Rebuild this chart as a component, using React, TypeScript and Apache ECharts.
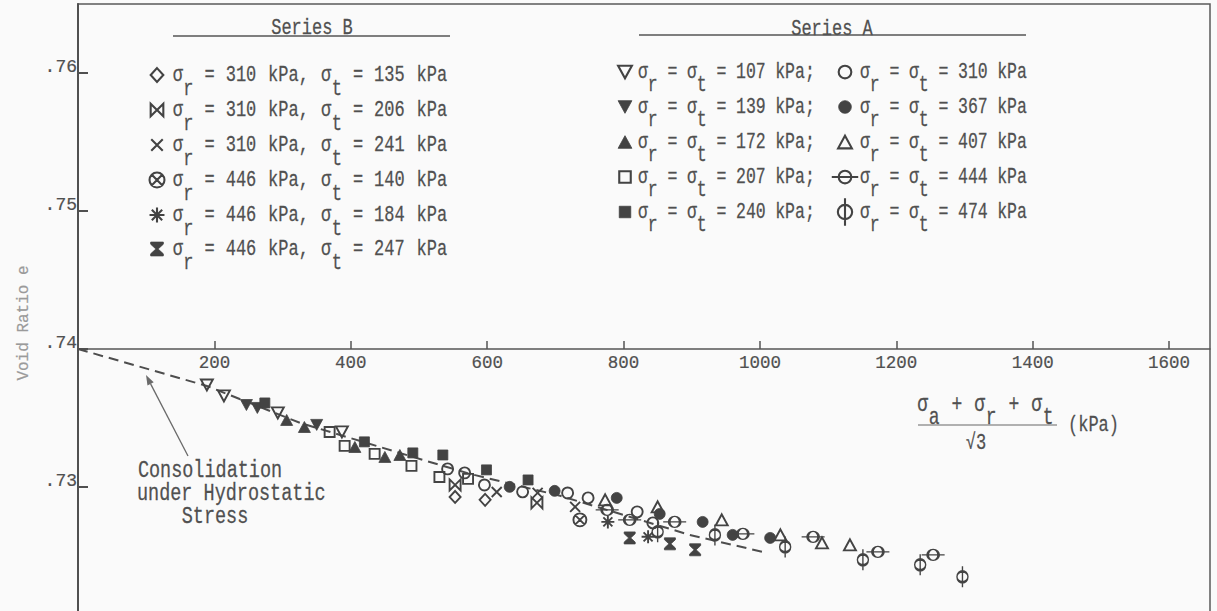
import React, { useEffect, useRef } from 'react';
import * as echarts from 'echarts';

// ---------- axes ----------
const X_MIN = 0;
const X_MAX = 1660;
const X_INTERVAL = 200;
const X_TICK_LABELS = [200, 400, 600, 800, 1000, 1200, 1400, 1600];
const Y_MIN = 0.72;
const Y_MAX = 0.765;
const Y_INTERVAL = 0.01;
const Y_TICK_LABELS = ['.73', '.74', '.75', '.76'];

// ---------- Series A (sigma_r = sigma_t) : [ (sa+sr+st)/sqrt3 kPa, void ratio e ] ----------
const a107 = [[189, 0.73739], [214, 0.7366], [293, 0.73537], [387, 0.73399]];
const a139 = [[247, 0.73594], [263, 0.73573], [350, 0.7345]];
const a172 = [[306, 0.73486], [332, 0.73435], [406, 0.7329], [450, 0.73218], [472, 0.73232]];
const a207 = [[369, 0.73399], [391, 0.73298], [435, 0.7324], [489, 0.73153], [530, 0.73073], [572, 0.73059]];
const a240 = [[274, 0.73609], [420, 0.73327], [491, 0.73247], [535, 0.73232], [599, 0.73124], [660, 0.73051]];
const a310 = [[542, 0.73131], [567, 0.73102], [596, 0.73015], [652, 0.72965], [718, 0.72957], [748, 0.72921], [820, 0.7282], [843, 0.7274]];
const a367 = [[633, 0.73001], [699, 0.72972], [790, 0.72921], [853, 0.72805], [916, 0.72747], [960, 0.72653], [1015, 0.72631]];
const a407 = [[773, 0.72907], [850, 0.72856], [944, 0.72762], [1030, 0.72653], [1091, 0.72595], [1132, 0.72581]];
const a444 = [[776, 0.72834], [809, 0.72762], [875, 0.72747], [975, 0.7266], [1078, 0.72639], [1173, 0.7253], [1254, 0.72508]];
const a474 = [[850, 0.72675], [934, 0.72653], [1037, 0.72566], [1151, 0.72472], [1235, 0.72436], [1297, 0.72349]];

// ---------- Series B ----------
const b310_135 = [[553, 0.72928], [597, 0.72907]];
const b310_206 = [[553, 0.73015], [673, 0.72885]];
const b310_241 = [[614, 0.72964], [674, 0.72957], [729, 0.72856]];
const b446_140 = [[736, 0.72762]];
const b446_184 = [[777, 0.72747], [836, 0.72639]];
const b446_247 = [[809, 0.72631], [868, 0.72588], [905, 0.72545]];

// ---------- consolidation under hydrostatic stress (dashed) ----------
const hydrostatic = [[0, 0.74], [189, 0.73732], [326, 0.73464], [491, 0.73218], [575, 0.73095], [707, 0.72936], [824, 0.72762], [897, 0.72653], [1010, 0.72523]];

// ---------- legend labels ----------
const A_LEFT = [107, 139, 172, 207, 240];
const A_RIGHT = [310, 367, 407, 444, 474];
const B_RADIAL = [310, 310, 310, 446, 446, 446];
const B_TANG = [135, 206, 241, 140, 184, 247];

const MARK = '#434343';
const TEXT = '#505050';
const FONT = '"Liberation Mono", "DejaVu Sans Mono", monospace';
const TALL = 1.3;
const EMB = 0.2;

const SYMBOLS: Record<string, { d: string; w: number; h: number }> = {
  triDown: { d: 'M0,0 L12,0 L6,11 Z', w: 12, h: 11 },
  triUp: { d: 'M6,0 L12,11 L0,11 Z', w: 12, h: 11 },
  square: { d: 'M0,0 L10,0 L10,10 L0,10 Z', w: 10, h: 10 },
  circle: { d: 'M0,5.5 A5.5,5.5 0 1,1 11,5.5 A5.5,5.5 0 1,1 0,5.5 Z', w: 11, h: 11 },
  diamond: { d: 'M5.5,0 L11,6 L5.5,12 L0,6 Z', w: 11, h: 12 },
  bowtie: { d: 'M0,0 L5.5,5.5 L0,11 Z M11,0 L5.5,5.5 L11,11 Z', w: 11, h: 11 },
  cross: { d: 'M0,0 L10,10 M10,0 L0,10', w: 10, h: 10 },
  otimes: { d: 'M0,6.5 A6.5,6.5 0 1,1 13,6.5 A6.5,6.5 0 1,1 0,6.5 Z M2,2 L11,11 M11,2 L2,11', w: 13, h: 13 },
  asterisk: { d: 'M6.5,0 L6.5,13 M0,6.5 L13,6.5 M2,2 L11,11 M11,2 L2,11', w: 13, h: 13 },
  hourglass: { d: 'M0,0 L11,0 L11,1.8 L6.5,6 L11,10.2 L11,12 L0,12 L0,10.2 L4.5,6 L0,1.8 Z', w: 11, h: 12 },
  circleBar: { d: 'M0,5.5 L23,5.5 M6,5.5 A5.5,5.5 0 1,1 17,5.5 A5.5,5.5 0 1,1 6,5.5 Z', w: 23, h: 11 },
  phi: { d: 'M5.5,0 L5.5,21 M0,10.5 A5.5,5.5 0 1,1 11,10.5 A5.5,5.5 0 1,1 0,10.5 Z', w: 11, h: 21 },
};

const SERIES_A = [
  { p: 107, data: a107, sym: 'triDown', fill: false },
  { p: 139, data: a139, sym: 'triDown', fill: true },
  { p: 172, data: a172, sym: 'triUp', fill: true },
  { p: 207, data: a207, sym: 'square', fill: false },
  { p: 240, data: a240, sym: 'square', fill: true },
  { p: 310, data: a310, sym: 'circle', fill: false },
  { p: 367, data: a367, sym: 'circle', fill: true },
  { p: 407, data: a407, sym: 'triUp', fill: false },
  { p: 444, data: a444, sym: 'circleBar', fill: false },
  { p: 474, data: a474, sym: 'phi', fill: false },
];
const SERIES_B = [
  { data: b310_135, sym: 'diamond', fill: false },
  { data: b310_206, sym: 'bowtie', fill: false },
  { data: b310_241, sym: 'cross', fill: false },
  { data: b446_140, sym: 'otimes', fill: false },
  { data: b446_184, sym: 'asterisk', fill: false },
  { data: b446_247, sym: 'hourglass', fill: true },
];

function txt(text: string, x: number, y: number, size: number, align = 'left', fill = TEXT, extra: any = {}) {
  return {
    type: 'text', x, y, silent: true, scaleY: TALL, ...extra,
    style: {
      text, fontSize: size, fontFamily: FONT, fill, stroke: fill, lineWidth: EMB,
      align, textAlign: align, verticalAlign: 'middle', textVerticalAlign: 'middle',
    },
  };
}

// template: "_c" marks a subscript char occupying one cell
function rowTexts(template: string, x0: number, y: number, adv: number, size: number, subDy: number) {
  const out: any[] = [];
  let idx = 0;
  let word = '';
  let start = -1;
  const flush = () => {
    if (word) out.push(txt(word, x0 + start * adv, y, size));
    word = '';
    start = -1;
  };
  for (let i = 0; i < template.length; i++) {
    const c = template[i];
    if (c === '_') {
      flush();
      out.push(txt(template[i + 1], x0 + idx * adv, y + subDy, size));
      idx++;
      i++;
      continue;
    }
    if (c === ' ') {
      flush();
      idx++;
      continue;
    }
    if (start < 0) start = idx;
    word += c;
    idx++;
  }
  flush();
  return out;
}

function legendSymbol(key: string, cx: number, cy: number, fill: boolean, scale = 1.15) {
  const s = SYMBOLS[key];
  return {
    type: 'sym_' + key, silent: true,
    x: cx - (s.w * scale) / 2, y: cy - (s.h * scale) / 2, scaleX: scale, scaleY: scale,
    style: { fill: fill ? MARK : 'none', stroke: MARK, lineWidth: (fill ? 0.8 : 2.1) / scale },
  };
}

export default function App() {
  const ref = useRef<HTMLDivElement>(null);
  useEffect(() => {
    Object.keys(SYMBOLS).forEach((k) => {
      echarts.graphic.registerShape('sym_' + k, echarts.graphic.extendPath(SYMBOLS[k].d, {}));
    });
    const chart = echarts.init(ref.current!, null, { renderer: 'svg' });

    const mkSeries = (name: string, def: any) => {
      const s = SYMBOLS[def.sym];
      return {
        type: 'scatter', name, data: def.data, xAxisIndex: 0, yAxisIndex: 0,
        symbol: 'path://' + s.d, symbolSize: [s.w, s.h], z: 3,
        itemStyle: { color: def.fill ? MARK : 'rgba(0,0,0,0)', borderColor: MARK, borderWidth: def.fill ? 0.8 : 1.9, opacity: 1 },
      };
    };

    const series: any[] = [
      {
        type: 'line', name: 'hydrostatic', data: hydrostatic, symbol: 'none', z: 2,
        lineStyle: { color: '#4d4d4d', width: 2, type: [10, 6] },
      },
      ...SERIES_A.map((d) => mkSeries(`σr = σt = ${d.p} kPa`, d)),
      ...SERIES_B.map((d, i) => mkSeries(`σr = ${B_RADIAL[i]} kPa, σt = ${B_TANG[i]} kPa`, d)),
    ];

    const g: any[] = [];
    // Series B legend
    g.push(txt('Series B', 312, 28, 17, 'center'));
    g.push({ type: 'line', silent: true, shape: { x1: 173, y1: 36, x2: 450, y2: 36 }, style: { stroke: '#555', lineWidth: 1.3 } });
    const bRows = [75, 110, 145, 180, 215, 249];
    SERIES_B.forEach((d, i) => {
      g.push(legendSymbol(d.sym, 157, bRows[i], d.fill));
      g.push(...rowTexts(`σ_r = ${B_RADIAL[i]} kPa, σ_t = ${B_TANG[i]} kPa`, 172.7, bRows[i], 10.6, 17, 14));
    });
    // Series A legend
    g.push(txt('Series A', 832, 29, 17, 'center'));
    g.push({ type: 'line', silent: true, shape: { x1: 639, y1: 35, x2: 1026, y2: 35 }, style: { stroke: '#555', lineWidth: 1.3 } });
    const aRows = [72, 107, 142, 177, 212];
    A_LEFT.forEach((p, i) => {
      const d = SERIES_A[i];
      g.push(legendSymbol(d.sym, 625, aRows[i], d.fill));
      g.push(...rowTexts(`σ_r = σ_t = ${p} kPa;`, 638, aRows[i], 9.8, 16.5, 13));
    });
    A_RIGHT.forEach((p, i) => {
      const d = SERIES_A[i + 5];
      g.push(legendSymbol(d.sym, 845, aRows[i], d.fill, d.sym === 'phi' ? 1.3 : 1.15));
      g.push(...rowTexts(`σ_r = σ_t = ${p} kPa`, 860, aRows[i], 9.8, 16.5, 13));
    });
    // x-axis title (fraction)
    g.push(...rowTexts('σ_a + σ_r + σ_t', 917.3, 405, 11.4, 18, 13));
    g.push({ type: 'line', silent: true, shape: { x1: 918, y1: 425, x2: 1057, y2: 425 }, style: { stroke: '#666', lineWidth: 1.2 } });
    g.push(txt('√3', 976, 443, 17, 'center'));
    g.push(txt('(kPa)', 1068, 425, 17, 'left'));
    // y-axis title
    g.push(txt('Void Ratio e', 24, 323, 16, 'center', '#9a9a9a', { rotation: Math.PI / 2, scaleY: 1 }));
    // annotation
    g.push(txt('Consolidation', 210, 470, 18.5, 'center'));
    g.push(txt('under Hydrostatic', 137, 493, 18.5, 'left'));
    g.push(txt('Stress', 215, 516, 18.5, 'center'));
    const tail = [188, 456];
    const tip = [146, 375];
    const dx = tip[0] - tail[0];
    const dy = tip[1] - tail[1];
    const len = Math.hypot(dx, dy);
    const ux = dx / len;
    const uy = dy / len;
    const bx = tip[0] - ux * 10;
    const by = tip[1] - uy * 10;
    g.push({ type: 'line', silent: true, shape: { x1: tail[0], y1: tail[1], x2: bx, y2: by }, style: { stroke: '#6a6a6a', lineWidth: 1.3 } });
    g.push({
      type: 'polygon', silent: true,
      shape: { points: [tip, [bx - uy * 3.5, by + ux * 3.5], [bx + uy * 3.5, by - ux * 3.5]] },
      style: { fill: '#6a6a6a' },
    });

    chart.setOption({
      animation: false,
      backgroundColor: '#fafafa',
      grid: [
        { left: 78, right: 7, top: 4, height: 621, show: true, borderColor: '#5a5a5a', borderWidth: 1.5, backgroundColor: 'transparent' },
        { left: 78, right: 7, top: 4, height: 345, show: false },
      ],
      xAxis: [
        { type: 'value', gridIndex: 0, min: X_MIN, max: X_MAX, interval: X_INTERVAL, show: false },
        {
          type: 'value', gridIndex: 1, position: 'bottom', min: X_MIN, max: X_MAX, interval: X_INTERVAL,
          axisLine: { show: true, lineStyle: { color: '#555', width: 1.5 } },
          axisTick: { show: true, inside: true, length: 8, lineStyle: { color: '#555', width: 1.5 } },
          splitLine: { show: false },
          axisLabel: {
            color: TEXT, fontFamily: FONT, fontSize: 17.5, margin: 5, showMaxLabel: false,
            textBorderColor: TEXT, textBorderWidth: EMB,
            formatter: (v: number) => (X_TICK_LABELS.includes(v) ? String(v) : ''),
          },
        },
      ],
      yAxis: [
        {
          type: 'value', gridIndex: 0, position: 'left', min: Y_MIN, max: Y_MAX, interval: Y_INTERVAL,
          axisLine: { show: true, lineStyle: { color: '#505050', width: 2 } },
          axisTick: { show: true, inside: true, length: 10, lineStyle: { color: '#505050', width: 2 } },
          splitLine: { show: false },
          axisLabel: {
            color: TEXT, fontFamily: FONT, fontSize: 18, margin: 1, showMaxLabel: false,
            verticalAlign: 'bottom', lineHeight: 12,
            textBorderColor: TEXT, textBorderWidth: EMB,
            formatter: (v: number) => {
              const lbl = '.' + Math.round(v * 100);
              return Math.abs(v * 100 - Math.round(v * 100)) < 1e-6 && Y_TICK_LABELS.includes(lbl) ? lbl : '';
            },
          },
        },
        { type: 'value', gridIndex: 1, min: 0, max: 1, show: false },
      ],
      series,
      graphic: { elements: g },
    });
    return () => chart.dispose();
  }, []);
  return <div ref={ref} style={{ position: 'fixed', left: 0, top: 0, width: 1217, height: 640 }} />;
}
